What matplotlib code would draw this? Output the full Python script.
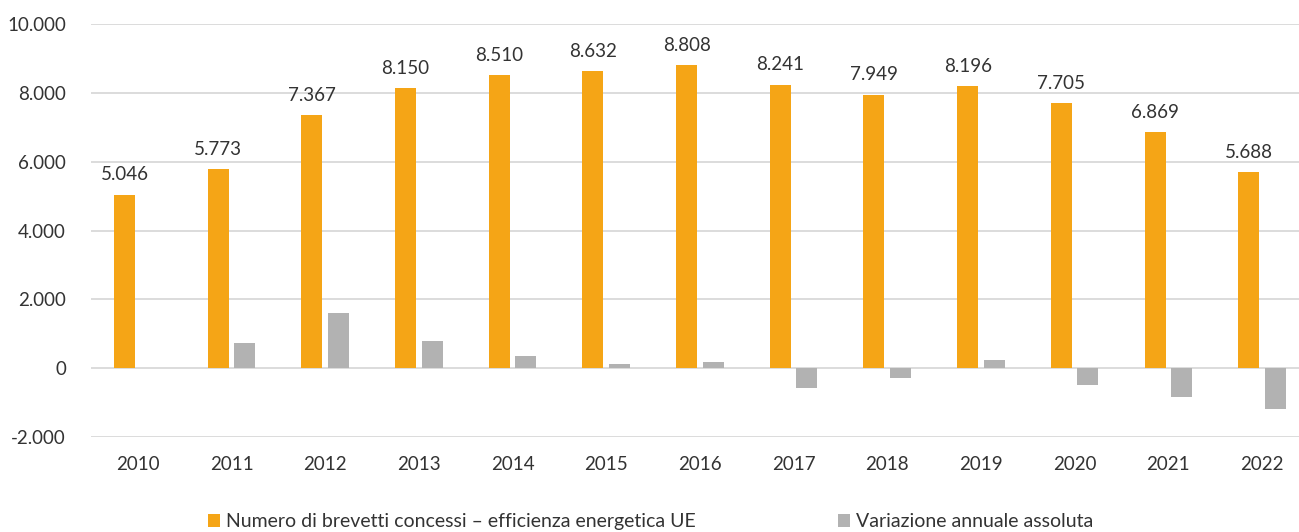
import numpy as np
import matplotlib.pyplot as plt

years = ["2010", "2011", "2012", "2013", "2014", "2015", "2016",
         "2017", "2018", "2019", "2020", "2021", "2022"]
brevetti = [5046, 5773, 7367, 8150, 8510, 8632, 8808,
            8241, 7949, 8196, 7705, 6869, 5688]
variazione = [np.nan, 727, 1594, 783, 360, 122, 176,
              -567, -292, 247, -491, -836, -1181]
yticks = [-2000, 0, 2000, 4000, 6000, 8000, 10000]

label_brev = "Numero di brevetti concessi \u2013 efficienza energetica UE"
label_var = "Variazione annuale assoluta"

ORANGE = "#F5A516"
GREY = "#B2B2B2"
TXT = "#333333"

plt.rcParams["font.family"] = ["Lato", "DejaVu Sans"]

fig = plt.figure(figsize=(12.99, 5.32), dpi=100)
ax = fig.add_axes([91 / 1299, 95 / 532, 1208 / 1299, 413 / 532])

x = np.arange(len(years))
w = 0.224
off = 0.142
ax.bar(x - off, brevetti, w, color=ORANGE, label=label_brev, zorder=3)
ax.bar(x + off, variazione, w, color=GREY, label=label_var, zorder=3)

def fmt(v):
    return f"{v:,}".replace(",", ".")

for xi, v in zip(x, brevetti):
    ax.annotate(fmt(v), (xi - off, v), xytext=(0, 8), textcoords="offset points",
                ha="center", va="bottom", fontsize=13.5, color=TXT)

ax.set_xlim(-0.5, 12.395)
ax.set_ylim(-2000, 10000)
ax.set_yticks(yticks)
ax.set_yticklabels([fmt(t) for t in yticks], fontsize=13.5, color=TXT)
ax.set_xticks(x)
ax.set_xticklabels(years, fontsize=13.5, color=TXT)
ax.tick_params(length=0)
ax.tick_params(axis="y", pad=18)
ax.tick_params(axis="x", pad=14)
ax.grid(axis="y", color="#D9D9D9", linewidth=1.3, zorder=0)
for s in ax.spines.values():
    s.set_visible(False)

fig.legend(loc="lower left", bbox_to_anchor=(190 / 1299, -0.03), ncol=2,
           frameon=False, fontsize=14, handlelength=0.65, handleheight=0.65,
           handletextpad=0.3, columnspacing=7.3, labelcolor=TXT)

fig.savefig("out.png", dpi=100)
